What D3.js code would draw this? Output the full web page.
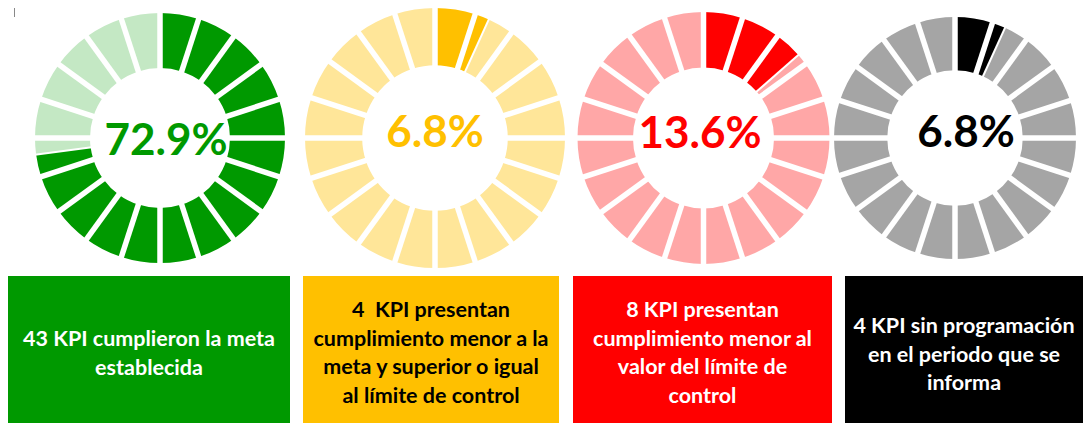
<!DOCTYPE html>
<html>
<head>
<meta charset="utf-8">
<script src="https://cdn.jsdelivr.net/npm/d3@7"></script>
<style>
  html, body { margin: 0; padding: 0; background: #fff; }
  svg { display: block; font-family: Lato, "Noto Sans", sans-serif; }
</style>
</head>
<body>
<div id="chart"></div>
<script>
// data
const categories = ['cumplieron', 'menor a la meta', 'menor al límite', 'sin programación'];
const kpiCounts = [43, 4, 8, 4];
const boxLines = [
  ['43 KPI cumplieron la meta', 'establecida'],
  ['4  KPI presentan', 'cumplimiento menor a la', 'meta y superior o igual', 'al límite de control'],
  ['8 KPI presentan', 'cumplimiento menor al', 'valor del límite de', 'control'],
  ['4 KPI sin programación', 'en el periodo que se', 'informa']
];
const segmentCount = 20;

// styles
const darkColors = ['#009900', '#FFC000', '#FF0000', '#000000'];
const lightColors = ['#C4E8C4', '#FFE699', '#FFA7A7', '#A5A5A5'];
const boxTextColors = ['#fff', '#000', '#fff', '#fff'];

// layout
const gaugeCx = [160, 435, 703.5, 955];
const gaugeR = [125, 130, 126, 121];
const pctX = [166, 435, 700, 966];
const pctY = [155, 147, 148, 147];
const boxX = [8, 303, 573, 845];
const boxW = [282, 256, 259, 238];
const boxTextY = [346, 317, 317, 333];

const width = 1090, height = 423;
const cy = 138;
const total = d3.sum(kpiCounts);
const fmt = d3.format('.1%');

const svg = d3.select('#chart').append('svg')
    .attr('width', width)
    .attr('height', height);

// cursor artifact in the top-left corner
svg.append('line')
    .attr('x1', 14.5).attr('x2', 14.5)
    .attr('y1', 8).attr('y2', 17)
    .attr('stroke', '#888').attr('stroke-width', 1);

const angle = d3.scaleLinear().domain([0, 1]).range([0, 2 * Math.PI]);

kpiCounts.forEach((count, k) => {
  const frac = count / total;
  const ro = gaugeR[k];
  const ri = ro * 0.56;
  const g = svg.append('g')
      .attr('transform', `translate(${gaugeCx[k]},${cy})`);

  // build pieces: each segment split at the value
  const pieces = [];
  for (let i = 0; i < segmentCount; i++) {
    const a0 = i / segmentCount, a1 = (i + 1) / segmentCount;
    if (frac >= a1) pieces.push({s: a0, e: a1, on: true});
    else if (frac <= a0) pieces.push({s: a0, e: a1, on: false});
    else {
      pieces.push({s: a0, e: frac, on: true});
      pieces.push({s: frac, e: a1, on: false});
    }
  }

  const arc = d3.arc()
      .innerRadius(ri)
      .outerRadius(ro)
      .startAngle(d => angle(d.s))
      .endAngle(d => angle(d.e));

  g.selectAll('path.piece')
      .data(pieces)
      .join('path')
      .attr('class', 'piece')
      .attr('d', arc)
      .attr('fill', d => d.on ? darkColors[k] : lightColors[k]);

  // white separators between segments
  const seps = d3.range(segmentCount).map(i => ({a: i / segmentCount, w: 5.5}));
  if (frac > 0 && frac < 1 && Math.abs(frac * segmentCount - Math.round(frac * segmentCount)) > 1e-6) {
    seps.push({a: frac, w: 2});
  }
  g.selectAll('line.sep')
      .data(seps)
      .join('line')
      .attr('class', 'sep')
      .attr('x1', d => (ri - 3) * Math.sin(angle(d.a)))
      .attr('y1', d => -(ri - 3) * Math.cos(angle(d.a)))
      .attr('x2', d => (ro + 3) * Math.sin(angle(d.a)))
      .attr('y2', d => -(ro + 3) * Math.cos(angle(d.a)))
      .attr('stroke', '#fff')
      .attr('stroke-width', d => d.w);

  // percentage label
  svg.append('text')
      .attr('x', pctX[k])
      .attr('y', pctY[k])
      .attr('text-anchor', 'middle')
      .attr('font-size', 44)
      .attr('font-weight', 700)
      .attr('fill', darkColors[k])
      .text(fmt(frac));

  // description box
  svg.append('rect')
      .attr('x', boxX[k])
      .attr('y', 276)
      .attr('width', boxW[k])
      .attr('height', height - 276)
      .attr('fill', darkColors[k]);

  svg.append('text')
      .attr('text-anchor', 'middle')
      .attr('font-size', 21.5)
      .attr('font-weight', 700)
      .attr('fill', boxTextColors[k])
      .style('white-space', 'pre')
      .selectAll('tspan')
      .data(boxLines[k])
      .join('tspan')
      .attr('x', boxX[k] + boxW[k] / 2)
      .attr('y', (d, i) => boxTextY[k] + i * 28.7)
      .text(d => d);
});
</script>
</body>
</html>
